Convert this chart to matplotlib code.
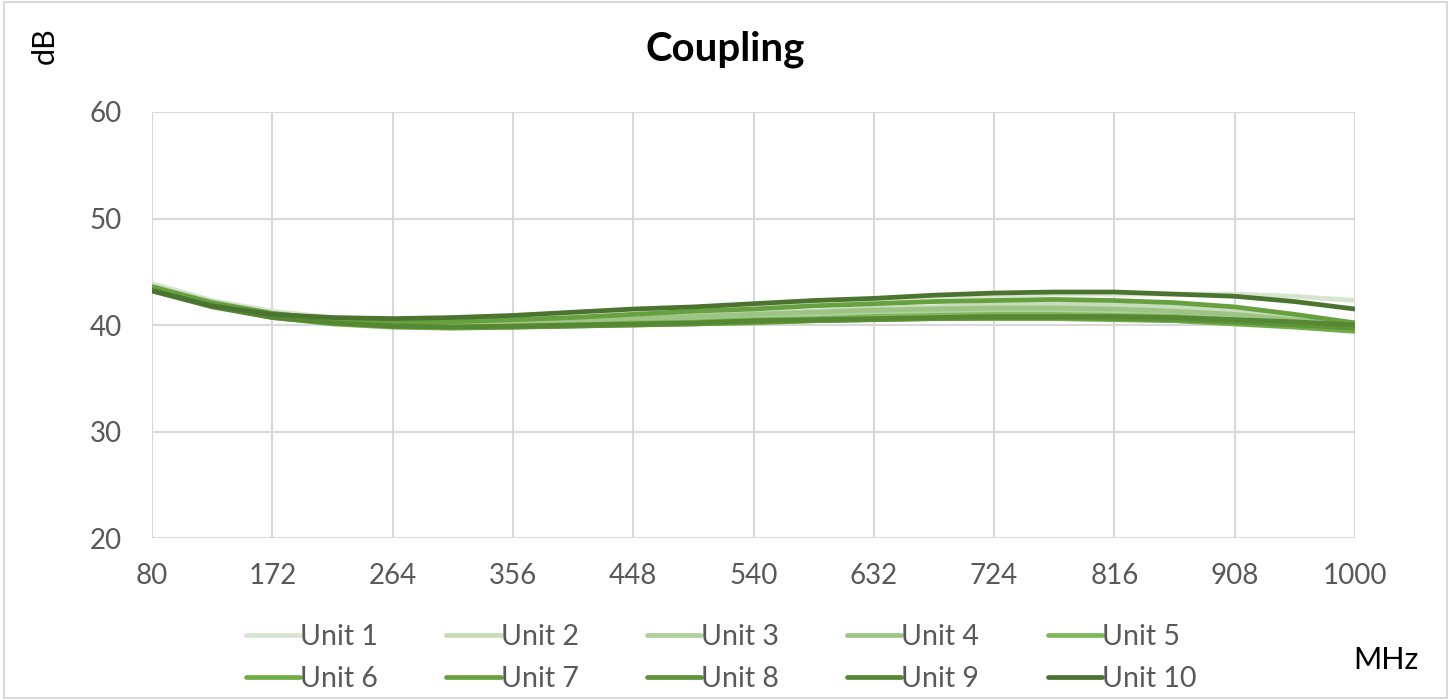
import numpy as np
import matplotlib
matplotlib.use("Agg")
import matplotlib.pyplot as plt
from matplotlib.patches import Rectangle

plt.rcParams['font.family'] = ['Lato', 'DejaVu Sans']

# frequency points (MHz)
freq = [80, 126, 172, 218, 264, 310, 356, 402, 448, 494, 540,
        586, 632, 678, 724, 770, 816, 862, 908, 954, 1000]

unit1 = [43.9, 42.3, 41.3, 40.7, 40.5, 40.5, 40.6, 40.9, 41.2, 41.5, 41.8,
         42.0, 42.3, 42.5, 42.7, 42.9, 42.9, 42.9, 42.9, 42.7, 42.3]
unit2 = [43.7, 42.2, 41.1, 40.5, 40.2, 40.2, 40.3, 40.5, 40.7, 40.9, 41.1,
         41.3, 41.6, 41.7, 41.9, 42.0, 41.9, 41.7, 41.3, 40.8, 40.2]
unit3 = [43.6, 42.0, 41.0, 40.4, 40.1, 40.1, 40.2, 40.3, 40.5, 40.7, 40.8,
         41.0, 41.2, 41.3, 41.4, 41.4, 41.3, 41.1, 40.8, 40.4, 40.0]
unit4 = [43.5, 42.0, 40.9, 40.3, 40.1, 40.0, 40.2, 40.4, 40.6, 40.8, 41.0,
         41.2, 41.4, 41.5, 41.6, 41.6, 41.5, 41.3, 41.0, 40.5, 39.9]
unit5 = [43.5, 41.9, 40.8, 40.2, 39.9, 39.8, 39.9, 40.0, 40.2, 40.3, 40.5,
         40.6, 40.8, 40.9, 41.0, 41.0, 40.9, 40.8, 40.5, 40.1, 39.6]
unit6 = [43.4, 41.8, 40.7, 40.1, 39.8, 39.7, 39.8, 39.9, 40.0, 40.1, 40.2,
         40.4, 40.5, 40.6, 40.6, 40.6, 40.5, 40.4, 40.1, 39.8, 39.4]
unit7 = [43.6, 42.1, 41.1, 40.5, 40.3, 40.3, 40.5, 40.7, 41.0, 41.3, 41.5,
         41.8, 42.0, 42.2, 42.3, 42.4, 42.3, 42.1, 41.7, 41.0, 40.2]
unit8 = [43.3, 41.8, 40.8, 40.2, 39.9, 39.8, 39.8, 39.9, 40.0, 40.1, 40.3,
         40.4, 40.5, 40.6, 40.7, 40.7, 40.6, 40.5, 40.3, 40.0, 39.7]
unit9 = [43.2, 41.7, 40.7, 40.2, 39.9, 39.8, 39.9, 40.0, 40.1, 40.2, 40.4,
         40.5, 40.6, 40.7, 40.8, 40.8, 40.8, 40.7, 40.5, 40.3, 40.0]
unit10 = [43.2, 41.8, 41.0, 40.7, 40.6, 40.7, 40.9, 41.2, 41.5, 41.7, 42.0,
          42.3, 42.5, 42.8, 43.0, 43.1, 43.1, 42.9, 42.7, 42.2, 41.5]

units = [unit1, unit2, unit3, unit4, unit5, unit6, unit7, unit8, unit9, unit10]
labels = ["Unit %d" % i for i in range(1, 11)]
colors = ['#d7e5d0', '#c6dcbb', '#b1d09f', '#9dc484', '#7db85b',
          '#70ad47', '#67a13f', '#5e9438', '#568834', '#4b7430']

xticks = [80, 172, 264, 356, 448, 540, 632, 724, 816, 908, 1000]
yticks = [20, 30, 40, 50, 60]

fig = plt.figure(figsize=(14.51, 7), dpi=100)
ax = fig.add_axes([0.1048, 0.2314, 0.829, 0.6086])

lines = []
for vals, lab, c in zip(units, labels, colors):
    ln, = ax.plot(freq, vals, color=c, linewidth=3.4, label=lab, solid_capstyle='round')
    lines.append(ln)

ax.set_xlim(80, 1000)
ax.set_ylim(20, 60)
ax.set_xticks(xticks)
ax.set_yticks(yticks)
ax.grid(True, color='#d9d9d9', linewidth=1.5)
ax.set_axisbelow(True)
for s in ax.spines.values():
    s.set_visible(False)
ax.tick_params(axis='both', length=0, labelsize=20, labelcolor='#595959')
ax.tick_params(axis='x', pad=18)
ax.tick_params(axis='y', pad=22)

fig.text(0.5, 0.93, "Coupling", ha='center', va='center', fontsize=29,
         fontweight='bold', color='black')
fig.text(0.031, 0.935, "dB", rotation=90, ha='center', va='center',
         fontsize=22, color='black')
fig.text(0.9555, 0.057, "MHz", ha='center', va='center', fontsize=22, color='black')

# legend filled row by row (matplotlib fills column by column)
order = [0, 5, 1, 6, 2, 7, 3, 8, 4, 9]
leg = fig.legend([lines[i] for i in order], [labels[i] for i in order],
                 loc='center', bbox_to_anchor=(0.497, 0.06), ncol=5, frameon=False,
                 fontsize=20.5, handlelength=1.9, handletextpad=0.0,
                 columnspacing=2.4, labelspacing=0.55)
for t in leg.get_texts():
    t.set_color('#595959')

fig.patches.append(Rectangle((0.003, 0.003), 0.994, 0.994, transform=fig.transFigure,
                             fill=False, edgecolor='#d9d9d9', linewidth=1.5))

fig.savefig("out.png", dpi=100)
